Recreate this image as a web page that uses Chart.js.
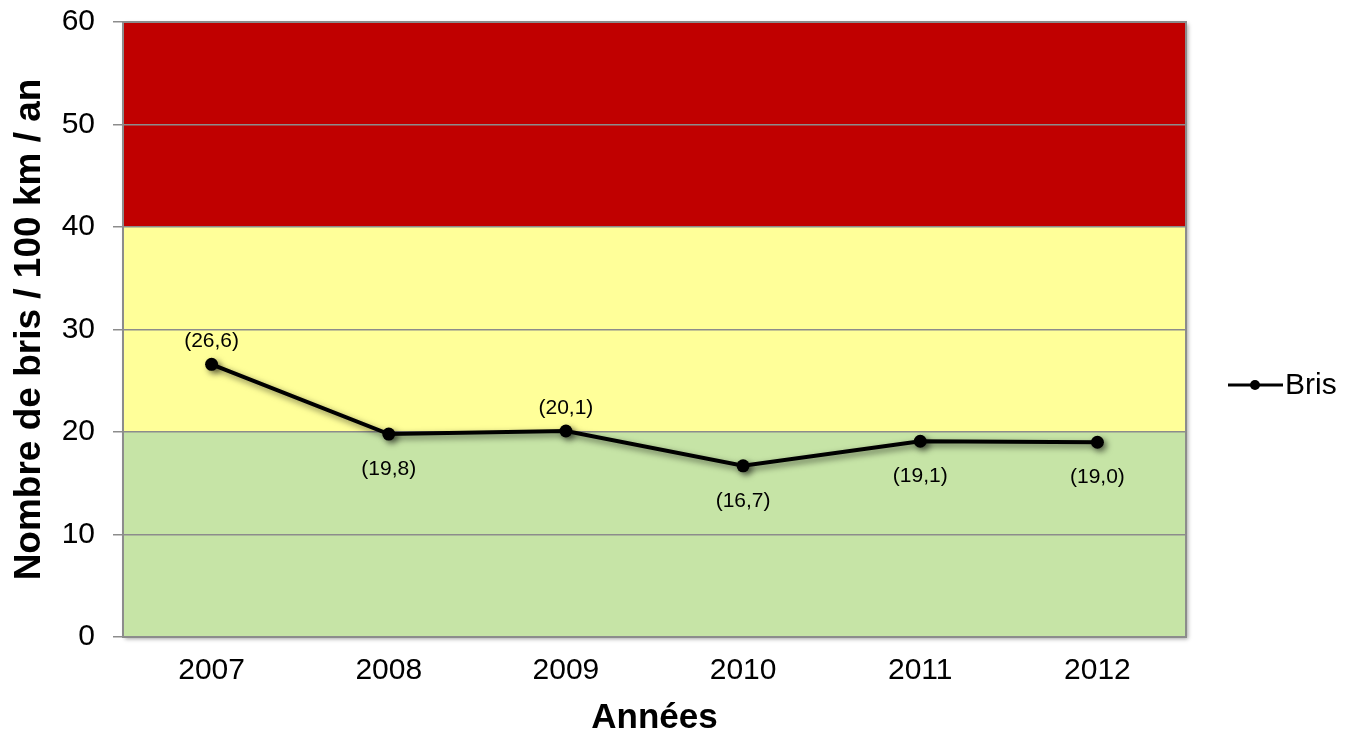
<!DOCTYPE html>
<html lang="fr">
<head>
<meta charset="utf-8">
<title>Bris par 100 km</title>
<script src="https://cdn.jsdelivr.net/npm/chart.js@4/dist/chart.umd.min.js"></script>
<style>
    html, body { margin: 0; padding: 0; background: #fff; }
    #wrap { width: 1357px; height: 739px; position: relative; }
</style>
</head>
<body>
<div id="wrap"><canvas id="brisChart"></canvas></div>
<script>
// Données : nombre de bris par 100 km par an
const annees = ['2007', '2008', '2009', '2010', '2011', '2012'];
const bris = [26.6, 19.8, 20.1, 16.7, 19.1, 19.0];
const etiquetteCote = ['haut', 'bas', 'haut', 'bas', 'bas', 'bas'];

// Zones de seuil (vert / jaune / rouge)
const zoneBornes = [0, 20, 40, 60];
const zoneCouleurs = ['#C6E4A6', '#FFFF99', '#C00000'];

const yTicks = [0, 10, 20, 30, 40, 50, 60];

const FONT = '"Liberation Sans", Arial, sans-serif';

function formatFr(v) {
    return '(' + v.toFixed(1).replace('.', ',') + ')';
}

// fond de la zone de tracé : cadre ombré + bandes colorées
const zonesPlugin = {
    id: 'zones',
    beforeDraw(chart) {
        const { ctx, chartArea: a, scales: { y } } = chart;
        ctx.save();
        ctx.shadowColor = 'rgba(0,0,0,0.35)';
        ctx.shadowBlur = 4;
        ctx.shadowOffsetX = 2;
        ctx.shadowOffsetY = 2;
        ctx.fillStyle = '#fff';
        ctx.fillRect(a.left, a.top, a.right - a.left, a.bottom - a.top);
        ctx.restore();

        ctx.save();
        for (let i = 0; i < zoneCouleurs.length; i++) {
            const yTop = y.getPixelForValue(zoneBornes[i + 1]);
            const yBot = y.getPixelForValue(zoneBornes[i]);
            ctx.fillStyle = zoneCouleurs[i];
            ctx.fillRect(a.left, yTop, a.right - a.left, yBot - yTop);
        }
        ctx.strokeStyle = '#8c8c8c';
        ctx.lineWidth = 2;
        ctx.strokeRect(a.left, a.top, a.right - a.left, a.bottom - a.top);
        ctx.restore();
    }
};

// ombre portée sous la courbe
const ombrePlugin = {
    id: 'ombre',
    beforeDatasetsDraw(chart) {
        const ctx = chart.ctx;
        ctx.save();
        ctx.shadowColor = 'rgba(0,0,0,0.55)';
        ctx.shadowBlur = 6;
        ctx.shadowOffsetX = 3;
        ctx.shadowOffsetY = 3;
    },
    afterDatasetsDraw(chart) {
        chart.ctx.restore();
    }
};

// étiquettes de valeur au-dessus / au-dessous des points
const etiquettesPlugin = {
    id: 'etiquettes',
    afterDraw(chart) {
        const { ctx } = chart;
        const meta = chart.getDatasetMeta(0);
        ctx.save();
        ctx.font = '21px ' + FONT;
        ctx.fillStyle = '#000';
        ctx.textAlign = 'center';
        ctx.textBaseline = 'middle';
        meta.data.forEach((pt, i) => {
            const dy = etiquetteCote[i] === 'haut' ? -23 : 35;
            ctx.fillText(formatFr(bris[i]), pt.x, pt.y + dy);
        });
        ctx.restore();
    }
};

// légende à droite : trait + point
const legendePlugin = {
    id: 'legende',
    afterDraw(chart) {
        const { ctx } = chart;
        const ds = chart.data.datasets[0];
        const cy = 385;
        ctx.save();
        ctx.strokeStyle = '#000';
        ctx.lineWidth = 3;
        ctx.beginPath();
        ctx.moveTo(1228, cy);
        ctx.lineTo(1283, cy);
        ctx.stroke();
        ctx.fillStyle = '#000';
        ctx.beginPath();
        ctx.arc(1255, cy, 5, 0, Math.PI * 2);
        ctx.fill();
        ctx.font = '30px ' + FONT;
        ctx.textAlign = 'left';
        ctx.textBaseline = 'middle';
        ctx.fillText(ds.label, 1285, cy + 1);
        ctx.restore();
    }
};

document.addEventListener('DOMContentLoaded', function() {
    const canvas = document.getElementById('brisChart');
    new Chart(canvas, {
        type: 'line',
        data: {
            labels: annees,
            datasets: [{
                label: 'Bris',
                data: bris,
                borderColor: '#000',
                backgroundColor: '#000',
                borderWidth: 4,
                pointRadius: 6.5,
                pointBackgroundColor: '#000',
                pointBorderWidth: 0,
                tension: 0
            }]
        },
        options: {
            responsive: true,
            maintainAspectRatio: false,
            animation: false,
            layout: {
                padding: { top: 22, right: 171, bottom: 0, left: 0 }
            },
            plugins: {
                legend: { display: false },
                tooltip: { enabled: false }
            },
            scales: {
                x: {
                    offset: true,
                    grid: { display: false, drawTicks: false },
                    border: { display: false },
                    ticks: {
                        color: '#000',
                        font: { family: FONT, size: 30 },
                        padding: 16
                    },
                    title: {
                        display: true,
                        text: 'Années',
                        color: '#000',
                        font: { family: FONT, size: 35, weight: 'bold' },
                        padding: { top: 4, bottom: 0 }
                    },
                    afterFit(scale) {
                        scale.height = 102;
                        scale.paddingLeft = 0;
                        scale.paddingRight = 0;
                    }
                },
                y: {
                    min: 0,
                    max: 60,
                    afterBuildTicks(scale) {
                        scale.ticks = yTicks.map(v => ({ value: v }));
                    },
                    grid: {
                        color: '#8c8c8c',
                        lineWidth: 1.5,
                        tickLength: 10,
                        drawOnChartArea: true
                    },
                    border: { display: false },
                    ticks: {
                        color: '#000',
                        font: { family: FONT, size: 30 },
                        padding: 18
                    },
                    title: {
                        display: true,
                        text: 'Nombre de bris / 100 km / an',
                        color: '#000',
                        font: { family: FONT, size: 37, weight: 'bold' },
                        padding: { top: 8, bottom: 0 }
                    },
                    afterFit(scale) {
                        scale.width = 123;
                        scale.paddingTop = 0;
                        scale.paddingBottom = 0;
                    }
                }
            }
        },
        plugins: [zonesPlugin, ombrePlugin, etiquettesPlugin, legendePlugin]
    });
});
</script>
</body>
</html>
